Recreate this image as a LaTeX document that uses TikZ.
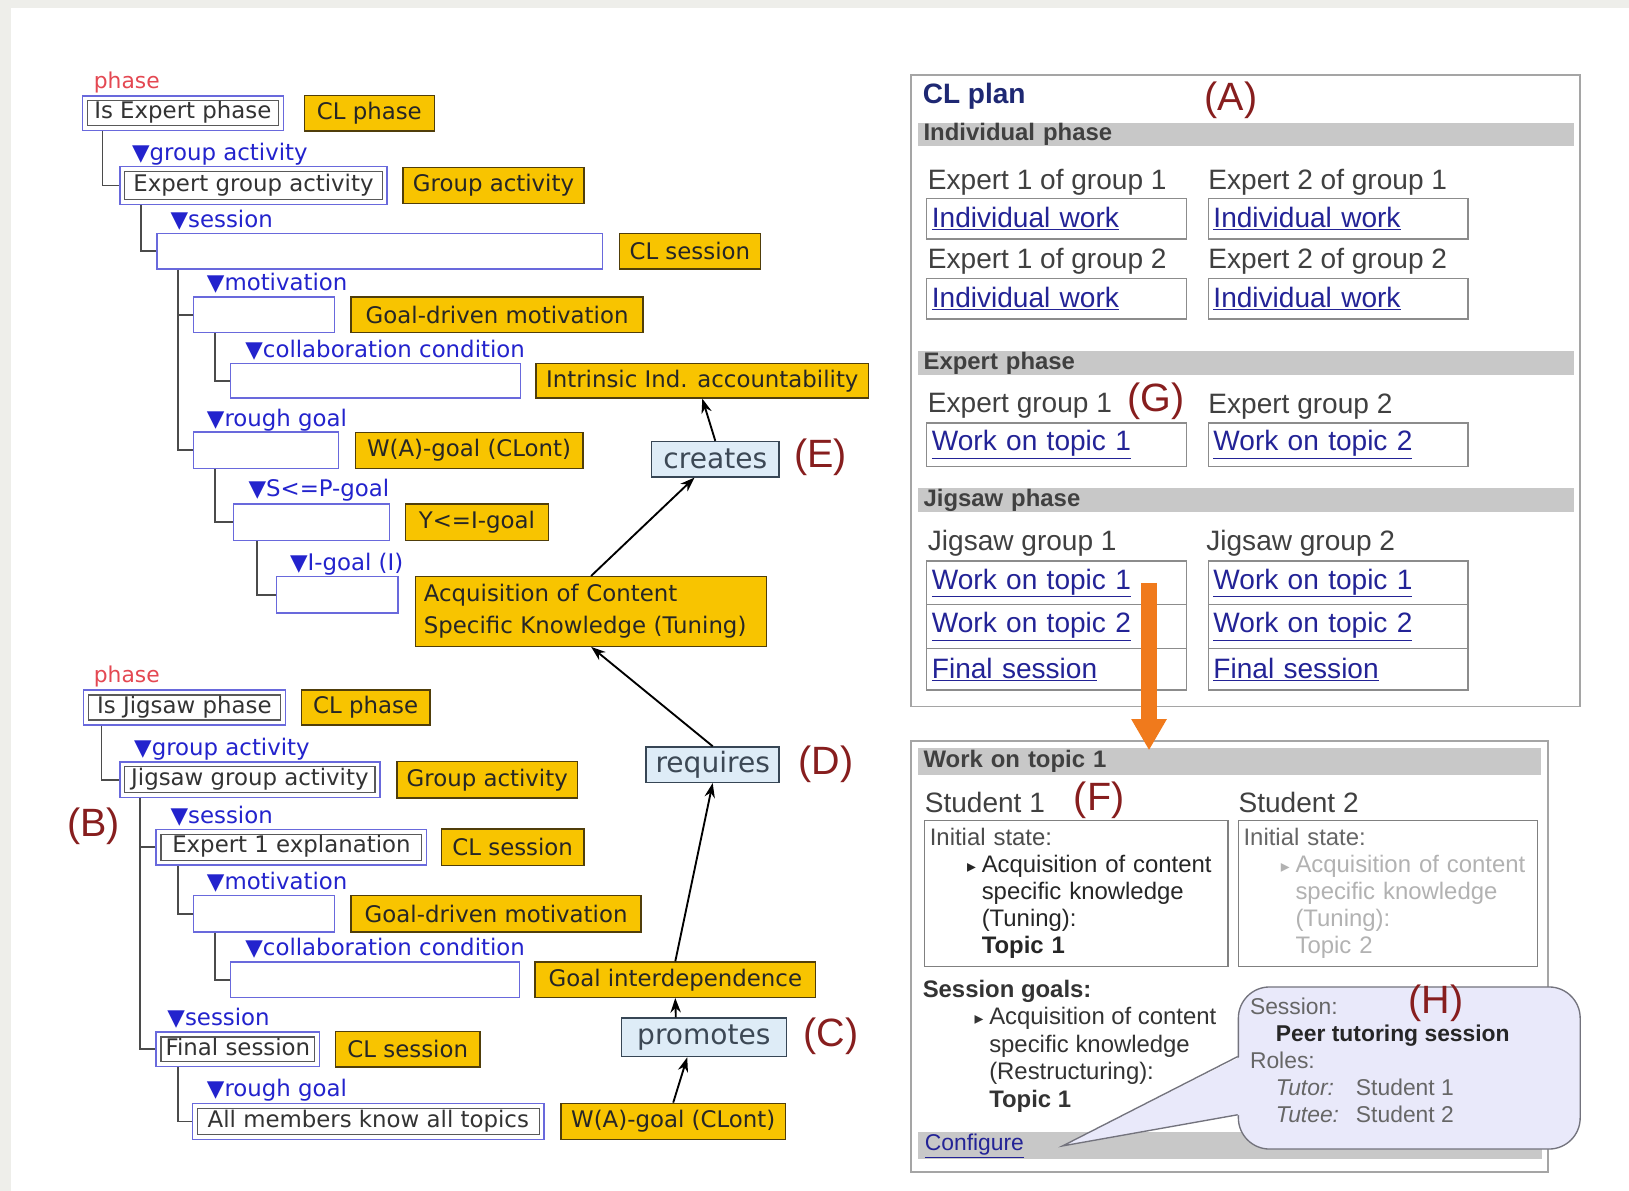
\documentclass[tikz,border=0pt]{standalone}
\usepackage{fontspec}
\setmainfont{Liberation Sans}
\newfontfamily\treefont{DejaVu Sans}
\usetikzlibrary{arrows.meta,fit}

\newcommand\fsz[2]{\fontsize{#1}{#2}\selectfont}
\newcommand\bul{{\treefont\fsz{17}{17}▸}}

\definecolor{pagegray}{RGB}{238,238,234}
\definecolor{frameblue}{RGB}{105,105,220}
\definecolor{yel}{RGB}{248,196,0}
\definecolor{yeldraw}{RGB}{80,62,10}
\definecolor{treegray}{RGB}{75,75,75}
\definecolor{slotblue}{RGB}{35,35,205}
\definecolor{phasered}{RGB}{228,72,82}
\definecolor{relfill}{RGB}{222,236,247}
\definecolor{reldraw}{RGB}{55,70,85}
\definecolor{reltext}{RGB}{60,72,85}
\definecolor{labred}{RGB}{135,30,30}
\definecolor{linkblue}{RGB}{35,35,150}
\definecolor{navy}{RGB}{30,40,115}
\definecolor{bandgray}{RGB}{200,200,200}
\definecolor{panelgray}{RGB}{165,165,165}
\definecolor{bubblefill}{RGB}{233,233,250}
\definecolor{bubbledraw}{RGB}{115,115,125}
\definecolor{pickorange}{RGB}{240,122,28}

\begin{document}
\begin{tikzpicture}[x=1pt,y=-1pt,
  tbox/.style={draw=frameblue,line width=1.4pt,inner sep=0pt},
  inbox/.style={draw=black!65,line width=1.3pt,inner sep=1pt,text height=16pt,text depth=5pt,font=\treefont\fsz{22}{26},text=black!80},
  ybox/.style={draw=yeldraw,fill=yel,line width=1.3pt,inner sep=0pt,font=\treefont\fsz{22}{26},text=black!85},
  slot/.style={anchor=west,inner sep=0pt,font=\treefont\fsz{22}{26},text=slotblue},
  phaselbl/.style={inner sep=0pt,font=\treefont\fsz{21}{24},text=phasered},
  branch/.style={draw=treegray,line width=1.8pt},
  rel/.style={draw=reldraw,fill=relfill,line width=1.4pt,inner sep=0pt,font=\treefont\fsz{27}{30},text=reltext},
  link/.style={-{Stealth[length=14pt,width=10pt]},line width=1.8pt},
  tag/.style={inner sep=0pt,font=\fsz{38}{40},text=labred},
  panel/.style={draw=panelgray,fill=white,line width=1.6pt},
  band/.style={fill=bandgray,minimum width=631pt,text width=621pt,minimum height=23pt,inner xsep=5pt,inner ysep=0pt,align=left,font=\bfseries\fsz{23}{25},text=black!75},
  grp/.style={anchor=west,inner sep=0pt,font=\fsz{27}{30},text=black!75},
  cell/.style={draw=black!45,line width=1.3pt,minimum width=250pt,minimum height=39pt,text width=240pt,inner sep=5pt,align=left,font=\fsz{27}{30},text=linkblue},
  sbox/.style={draw=black!50,line width=1.3pt,minimum width=292pt,minimum height=140pt,text width=282pt,inner sep=5pt,align=left,font=\fsz{23}{26}},
  bubble/.style={draw=bubbledraw,fill=bubblefill,line width=1.3pt,rounded corners=30pt},
  pick/.style={draw=pickorange,line width=15pt,-{Triangle[width=32pt,length=30pt]}}]
\useasboundingbox (0,0) rectangle (1568,1146);
\fill[pagegray] (0,0) rectangle (1568,1146);
\fill[white] (11,8) rectangle (1568,1146);

% expert phase tree
\node[phaselbl] (ph1) at (122,79) {phase};
\node[inbox,minimum width=184pt,minimum height=24pt] (ie) at (176,109) {Is Expert phase};
\node[tbox,fit=(ie),inner sep=4pt] (ieo) {};
\node[ybox,minimum width=125pt,minimum height=34pt] (y1) at (355.5,109) {CL phase};
\node[slot] (s1) at (127,148) {▼group activity};
\node[inbox,minimum width=248pt,minimum height=27pt] (ega) at (244,178.5) {Expert group activity};
\node[tbox,fit=(ega),inner sep=4pt] (egao) {};
\node[ybox,minimum width=174pt,minimum height=35pt] (y2) at (475,178.5) {Group activity};
\node[slot] (s2) at (164,212) {▼session};
\node[tbox,minimum width=429pt,minimum height=34pt] (ses1) at (365.5,242) {};
\node[ybox,minimum width=136pt,minimum height=34pt] (y3) at (664,242) {CL session};
\node[slot] (s3) at (199,273) {▼motivation};
\node[tbox,minimum width=136pt,minimum height=34pt] (mot1) at (254,303) {};
\node[ybox,minimum width=281pt,minimum height=34pt] (y4) at (478.5,303) {Goal-driven motivation};
\node[slot] (s4) at (236,337) {▼collaboration condition};
\node[tbox,minimum width=279pt,minimum height=33pt] (col1) at (361.5,366.5) {};
\node[ybox,minimum width=320pt,minimum height=33pt] (iia) at (676,366.5) {Intrinsic Ind. accountability};
\node[slot] (s5) at (199,404) {▼rough goal};
\node[tbox,minimum width=140pt,minimum height=35pt] (rg1) at (256,433.5) {};
\node[ybox,minimum width=219pt,minimum height=35pt] (y6) at (451.5,433.5) {W(A)-goal (CLont)};
\node[slot] (s6) at (239,472) {▼S<=P-goal};
\node[tbox,minimum width=150pt,minimum height=35pt] (sp) at (300,502.5) {};
\node[ybox,minimum width=138pt,minimum height=35pt] (y7) at (459,502.5) {Y<=I-goal};
\node[slot] (s7) at (279,543) {▼I-goal (I)};
\node[tbox,minimum width=117pt,minimum height=35pt] (ig) at (324.5,572.5) {};
\node[ybox,minimum width=338pt,minimum height=67pt,text width=322pt,align=left,font=\treefont\fsz{22}{31}] (acq) at (569,588.5) {Acquisition of Content\\Specific Knowledge (Tuning)};
\node[rel,minimum width=123pt,minimum height=34pt] (creates) at (688.5,442) {creates};
\node[tag] (tE) at (790,440) {(E)};

% jigsaw phase tree
\node[phaselbl] (ph2) at (122,651) {phase};
\node[inbox,minimum width=185pt,minimum height=24pt] (ij) at (177.5,681) {Is Jigsaw phase};
\node[tbox,fit=(ij),inner sep=4pt] (ijo) {};
\node[ybox,minimum width=124pt,minimum height=34pt] (y9) at (352,681) {CL phase};
\node[slot] (s8) at (129,721) {▼group activity};
\node[inbox,minimum width=241pt,minimum height=25pt] (jga) at (240.5,750.5) {Jigsaw group activity};
\node[tbox,fit=(jga),inner sep=4pt] (jgao) {};
\node[ybox,minimum width=174pt,minimum height=35pt] (y10) at (469,750.5) {Group activity};
\node[tag] (tB) at (90,795) {(B)};
\node[slot] (s9) at (164,786) {▼session};
\node[inbox,minimum width=251pt,minimum height=25pt] (e1e) at (280.5,815.5) {Expert 1 explanation};
\node[tbox,fit=(e1e),inner sep=4pt] (e1eo) {};
\node[ybox,minimum width=137pt,minimum height=35pt] (y11) at (493.5,815.5) {CL session};
\node[slot] (s10) at (199,849) {▼motivation};
\node[tbox,minimum width=136pt,minimum height=35pt] (mot2) at (254,879.5) {};
\node[ybox,minimum width=279pt,minimum height=35pt] (y12) at (477.5,879.5) {Goal-driven motivation};
\node[slot] (s11) at (236,913) {▼collaboration condition};
\node[tbox,minimum width=278pt,minimum height=34pt] (col2) at (361,943) {};
\node[ybox,minimum width=270pt,minimum height=34pt] (gid) at (650,943) {Goal interdependence};
\node[slot] (s12) at (161,980) {▼session};
\node[inbox,minimum width=148pt,minimum height=24pt] (fs) at (229,1010) {Final session};
\node[tbox,fit=(fs),inner sep=4pt] (fso) {};
\node[ybox,minimum width=139pt,minimum height=34pt] (y14) at (392.5,1010) {CL session};
\node[slot] (s13) at (199,1049) {▼rough goal};
\node[inbox,minimum width=329pt,minimum height=25pt] (amk) at (354.5,1079.5) {All members know all topics};
\node[tbox,fit=(amk),inner sep=4pt] (amko) {};
\node[ybox,minimum width=216pt,minimum height=35pt] (wag2) at (648,1079.5) {W(A)-goal (CLont)};
\node[rel,minimum width=128pt,minimum height=34pt] (requires) at (686,736) {requires};
\node[tag] (tD) at (795,736) {(D)};
\node[rel,minimum width=159pt,minimum height=37pt] (promotes) at (677.5,998.5) {promotes};
\node[tag] (tC) at (800,997) {(C)};

\foreach \a/\b/\d in {ieo/egao/20, egao/ses1/21, ses1/mot1/21, ses1/rg1/21, mot1/col1/22, rg1/sp/22, sp/ig/23,
    ijo/jgao/18, jgao/e1eo/20, jgao/fso/20, e1eo/mot2/22, mot2/col2/22, fso/amko/22}
  \draw[branch] ([xshift=\d pt]\a.south west) |- (\b.west);

\draw[link] (acq.north) -- ([xshift=-20pt]creates.south);
\draw[link] (creates.north) -- (iia.south);
\draw[link] (requires.north) -- (acq.south);
\draw[link] (gid.north) -- (requires.south);
\draw[link] ([xshift=-27pt]promotes.north) -- (gid.south);
\draw[link] (wag2.north) -- ([xshift=-16pt]promotes.south);

% CL plan
\node[panel,minimum width=644pt,minimum height=608pt] (plan) at (1199,376) {};
\node[anchor=west,inner sep=0pt,font=\bfseries\fsz{27}{30},text=navy] (title) at (888,93) {CL plan};
\node[tag] (tA) at (1185,97) {(A)};
\node[band] (b1) at (1199.5,129.5) {Individual phase};
\node[grp] (g11) at (893,175) {Expert 1 of group 1};
\node[grp] (g21) at (1163,175) {Expert 2 of group 1};
\node[cell] (c11) at (1017,210.5) {\underline{Individual work}};
\node[cell] (c21) at (1288,210.5) {\underline{Individual work}};
\node[grp] (g12) at (893,251) {Expert 1 of group 2};
\node[grp] (g22) at (1163,251) {Expert 2 of group 2};
\node[cell] (c12) at (1017,287.5) {\underline{Individual work}};
\node[cell] (c22) at (1288,287.5) {\underline{Individual work}};
\node[band] (b2) at (1199.5,349.5) {Expert phase};
\node[grp] (eg1) at (893,391) {Expert group 1};
\node[tag] (tG) at (1113,386) {(G)};
\node[grp] (eg2) at (1163,391) {Expert group 2};
\node[cell,minimum height=42pt] (w1) at (1017,428) {\underline{Work on topic 1}};
\node[cell,minimum height=42pt] (w2) at (1288,428) {\underline{Work on topic 2}};
\node[band] (b3) at (1199.5,481.5) {Jigsaw phase};
\node[grp] (jg1) at (893,523) {Jigsaw group 1};
\node[grp] (jg2) at (1161,523) {Jigsaw group 2};
\foreach \c/\x in {1/1017, 2/1288} {
  \node[cell,minimum height=42pt] (j\c1) at (\x,561) {\underline{Work on topic 1}};
  \node[cell,minimum height=42pt] (j\c2) at (\x,603) {\underline{Work on topic 2}};
  \node[cell,minimum height=40pt] (j\c3) at (\x,644) {\underline{Final session}};
}

% work on topic 1
\node[panel,minimum width=613pt,minimum height=415pt] (wtp) at (1183.5,920.5) {};
\node[band,minimum width=599pt,text width=589pt,minimum height=26pt] (b4) at (1183.5,733) {Work on topic 1};
\node[grp] (st1) at (890,772) {Student 1};
\node[tag] (tF) at (1058,770) {(F)};
\node[grp] (st2) at (1192,772) {Student 2};
\node[sbox,text=black!85] (sb1) at (1036,860) {\textcolor{black!70}{Initial state:}\\
  \hspace*{36pt}\makebox[14pt][l]{\bul}Acquisition of content\\
  \hspace*{50pt}specific knowledge\\
  \hspace*{50pt}(Tuning):\\
  \hspace*{50pt}\textbf{Topic 1}};
\node[sbox,minimum width=288pt,text width=278pt,text=black!30] (sb2) at (1336,860) {\textcolor{black!60}{Initial state:}\\
  \hspace*{36pt}\makebox[14pt][l]{\bul}Acquisition of content\\
  \hspace*{50pt}specific knowledge\\
  \hspace*{50pt}(Tuning):\\
  \hspace*{50pt}Topic 2};
\node[anchor=north west,inner sep=0pt,align=left,font=\fsz{23}{26.5},text=black!80] (goals) at (888,943) {\textbf{Session goals:}\\
  \hspace*{50pt}\makebox[14pt][l]{\bul}Acquisition of content\\
  \hspace*{64pt}specific knowledge\\
  \hspace*{64pt}(Restructuring):\\
  \hspace*{64pt}\textbf{Topic 1}};
\node[band,minimum width=600pt,text width=590pt,minimum height=26pt] (b5) at (1184,1103) {};
\node[anchor=west,inner sep=0pt,font=\fsz{22}{24},text=linkblue] (conf) at (890,1103) {\underline{Configure}};
\coordinate (tip) at ([xshift=37pt]conf.east);

% callout
\node[bubble,minimum width=329pt,minimum height=156pt] (bub) at (1356.5,1028) {};
\fill[bubblefill] ([xshift=3pt,yshift=11pt]bub.west) -- (tip) -- ([xshift=3pt,yshift=-45pt]bub.west) -- cycle;
\draw[draw=bubbledraw,line width=1.3pt] ([yshift=11pt]bub.west) -- (tip) -- ([yshift=-45pt]bub.west);
\node[anchor=north west,inner sep=0pt,align=left,font=\fsz{22}{26},text=black!60] (roles) at (1203,960) {Session:\\
  \hspace*{25pt}\textcolor{black!85}{\textbf{Peer tutoring session}}\\
  Roles:\\
  \hspace*{25pt}\makebox[77pt][l]{\textit{Tutor:}}Student 1\\
  \hspace*{25pt}\makebox[77pt][l]{\textit{Tutee:}}Student 2};
\node[tag] (tH) at (1382,966) {(H)};

\draw[pick] ([xshift=89pt]j11.center) -- ([xshift=-77.5pt,yshift=-10pt]wtp.north);
\end{tikzpicture}
\end{document}
